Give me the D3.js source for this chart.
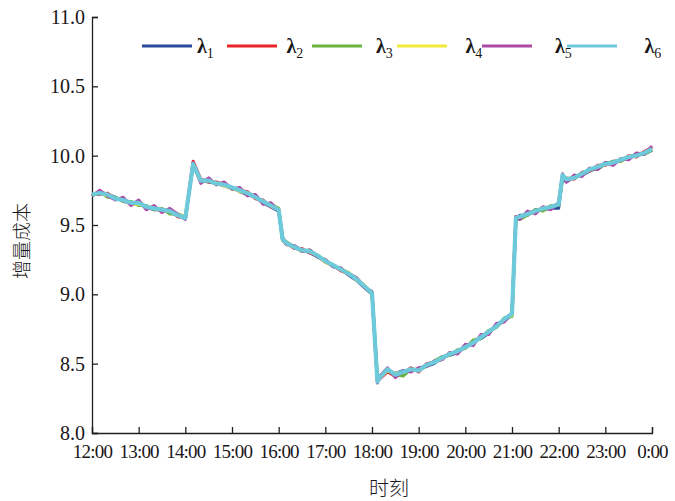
<!DOCTYPE html>
<html>
<head>
<meta charset="utf-8">
<script src="https://cdn.jsdelivr.net/npm/d3@7"></script>
<style>
  body { margin: 0; background: #fff; }
  .tick text { font-family: "Liberation Serif", serif; fill: #1a1718; }
</style>
</head>
<body>
<div id="chart-area"></div>
<script>
const MARGIN = { LEFT: 92, RIGHT: 23, TOP: 17, BOTTOM: 68 }
const WIDTH = 675 - MARGIN.LEFT - MARGIN.RIGHT
const HEIGHT = 501 - MARGIN.TOP - MARGIN.BOTTOM

// sample times (clock time, 24:00 = midnight at the end)
const times = ["12:00","12:10","12:20","12:30","12:40","12:50","13:00","13:10","13:20","13:30","13:40","13:50",
  "14:00","14:10","14:20","14:30","14:40","14:50","15:00","15:10","15:20","15:30","15:40","15:50",
  "16:00","16:05","16:10","16:20","16:30","16:40","16:50","17:00","17:10","17:20","17:30","17:40","17:50",
  "18:00","18:07","18:10","18:20","18:30","18:40","18:50","19:00","19:10","19:20","19:30","19:40","19:50",
  "20:00","20:10","20:20","20:30","20:40","20:50","21:00","21:05","21:10","21:20","21:30","21:40","21:50",
  "22:00","22:05","22:10","22:20","22:30","22:40","22:50","23:00","23:10","23:20","23:30","23:40","23:50","24:00"]

const lambda1 = [9.71,9.74,9.72,9.70,9.67,9.66,9.65,9.63,9.61,9.61,9.59,9.57,
  9.55,9.93,9.82,9.81,9.80,9.78,9.77,9.74,9.72,9.70,9.66,9.63,
  9.60,9.39,9.36,9.35,9.32,9.30,9.27,9.24,9.20,9.18,9.14,9.10,9.05,
  9.00,8.38,8.41,8.45,8.43,8.45,8.45,8.46,8.48,8.50,8.55,8.56,8.58,
  8.62,8.66,8.68,8.72,8.78,8.81,8.85,9.54,9.57,9.57,9.61,9.61,9.62,
  9.62,9.84,9.81,9.85,9.86,9.89,9.91,9.95,9.94,9.97,9.98,10.01,10.01,10.04]
const lambda2 = [9.72,9.72,9.73,9.69,9.69,9.65,9.66,9.62,9.62,9.60,9.61,9.56,
  9.55,9.96,9.83,9.81,9.81,9.79,9.76,9.75,9.74,9.69,9.68,9.63,
  9.62,9.41,9.37,9.33,9.33,9.30,9.28,9.23,9.21,9.17,9.15,9.12,9.06,
  9.01,8.38,8.39,8.44,8.41,8.43,8.47,8.44,8.50,8.51,8.53,8.58,8.58,
  8.63,8.64,8.70,8.72,8.77,8.81,8.86,9.56,9.55,9.59,9.59,9.63,9.62,
  9.66,9.85,9.84,9.83,9.88,9.89,9.93,9.93,9.96,9.96,10.00,9.99,10.03,10.06]
const lambda3 = [9.71,9.74,9.70,9.70,9.67,9.67,9.64,9.64,9.61,9.62,9.58,9.58,
  9.56,9.93,9.81,9.83,9.79,9.80,9.76,9.76,9.72,9.71,9.66,9.65,
  9.62,9.39,9.38,9.34,9.31,9.32,9.27,9.25,9.20,9.19,9.14,9.12,9.05,
  9.02,8.39,8.41,8.45,8.42,8.41,8.46,8.46,8.48,8.52,8.55,8.56,8.60,
  8.61,8.67,8.68,8.74,8.76,8.83,8.84,9.54,9.54,9.57,9.61,9.60,9.64,
  9.64,9.84,9.82,9.85,9.86,9.91,9.90,9.94,9.96,9.96,9.99,10.01,10.01,10.04]
const lambda4 = [9.72,9.73,9.71,9.69,9.68,9.65,9.65,9.63,9.62,9.60,9.60,9.57,
  9.56,9.94,9.82,9.82,9.80,9.78,9.77,9.74,9.73,9.70,9.67,9.64,
  9.61,9.40,9.36,9.34,9.32,9.31,9.28,9.23,9.21,9.18,9.16,9.10,9.07,
  9.00,8.37,8.40,8.45,8.43,8.44,8.45,8.45,8.49,8.51,8.54,8.57,8.59,
  8.62,8.65,8.69,8.73,8.77,8.82,8.85,9.55,9.56,9.58,9.60,9.62,9.63,
  9.65,9.86,9.83,9.84,9.87,9.90,9.92,9.94,9.95,9.97,9.99,10.00,10.02,10.05]
const lambda5 = [9.71,9.75,9.71,9.68,9.70,9.64,9.68,9.61,9.64,9.59,9.62,9.58,
  9.54,9.95,9.80,9.84,9.79,9.81,9.76,9.77,9.71,9.72,9.65,9.66,
  9.60,9.41,9.36,9.35,9.31,9.32,9.27,9.25,9.20,9.19,9.14,9.12,9.05,
  9.02,8.36,8.41,8.47,8.40,8.45,8.44,8.47,8.48,8.52,8.53,8.58,8.57,
  8.64,8.63,8.71,8.71,8.79,8.80,8.87,9.56,9.54,9.60,9.58,9.63,9.61,
  9.66,9.87,9.81,9.86,9.85,9.91,9.90,9.95,9.93,9.98,9.97,10.02,10.01,10.07]
const lambda6 = [9.72,9.73,9.72,9.69,9.68,9.66,9.66,9.63,9.62,9.61,9.60,9.57,
  9.55,9.94,9.82,9.82,9.80,9.79,9.77,9.75,9.73,9.70,9.67,9.64,
  9.61,9.40,9.37,9.34,9.32,9.31,9.28,9.24,9.21,9.18,9.15,9.11,9.06,
  9.01,8.37,8.40,8.46,8.42,8.44,8.46,8.45,8.49,8.51,8.54,8.57,8.59,
  8.62,8.65,8.69,8.73,8.77,8.82,8.86,9.55,9.56,9.58,9.60,9.62,9.63,
  9.65,9.86,9.83,9.84,9.87,9.90,9.92,9.94,9.95,9.97,9.99,10.00,10.02,10.05]

const seriesNames = ["1", "2", "3", "4", "5", "6"]
const seriesValues = [lambda1, lambda2, lambda3, lambda4, lambda5, lambda6]
const colors = ["#2b4a9b", "#ec2327", "#68b43f", "#f2ea3b", "#ad4aa5", "#6ccadb"]
const yTicks = [8.0, 8.5, 9.0, 9.5, 10.0, 10.5, 11.0]

// minutes since 12:00
const toMinutes = s => { const p = s.split(":"); return (+p[0] - 12) * 60 + (+p[1]) }
const mins = times.map(toMinutes)

const svg = d3.select("#chart-area").append("svg")
	.attr("width", WIDTH + MARGIN.LEFT + MARGIN.RIGHT)
	.attr("height", HEIGHT + MARGIN.TOP + MARGIN.BOTTOM)

const g = svg.append("g")
	.attr("transform", `translate(${MARGIN.LEFT}, ${MARGIN.TOP})`)

// scales
const x = d3.scaleLinear().domain([0, 720]).range([0, WIDTH])
const y = d3.scaleLinear().domain([8, 11]).range([HEIGHT, 0])

// axes, ticks point inward
const xAxisCall = d3.axisBottom(x)
	.tickValues(d3.range(0, 721, 60))
	.tickSize(-6)
	.tickPadding(12)
	.tickFormat(d => `${(12 + d / 60) % 24}:00`)
const yAxisCall = d3.axisLeft(y)
	.tickValues(yTicks)
	.tickSize(-6)
	.tickPadding(7)
	.tickFormat(d3.format(".1f"))

const xAxis = g.append("g")
	.attr("transform", `translate(0, ${HEIGHT})`)
	.call(xAxisCall)
xAxis.selectAll("text").attr("font-size", "19px").style("letter-spacing", "-0.8px")
const yAxis = g.append("g").call(yAxisCall)
yAxis.selectAll("text").attr("font-size", "20px")

svg.selectAll(".domain, .tick line").attr("stroke", "#231f20").attr("stroke-width", 1.3)

// lines
const line = d3.line()
	.x((d, i) => x(mins[i]))
	.y(d => y(d))

seriesValues.forEach((vals, i) => {
	g.append("path")
		.attr("fill", "none")
		.attr("stroke", colors[i])
		.attr("stroke-width", i === 5 ? 4.2 : 3)
		.attr("stroke-linejoin", "round")
		.attr("d", line(vals))
})

// legend
const legend = svg.append("g")
seriesNames.forEach((n, i) => {
	const lx = 142 + 85 * i
	legend.append("line")
		.attr("x1", lx).attr("x2", lx + 50)
		.attr("y1", 46).attr("y2", 46)
		.attr("stroke", colors[i]).attr("stroke-width", 3)
	const t = legend.append("text")
		.attr("x", 197 + 89.5 * i)
		.attr("y", 53)
		.attr("font-family", "Liberation Serif, serif")
		.attr("fill", "#1a1718")
	t.append("tspan").attr("font-size", "20px").attr("font-weight", "bold").text("λ")
	t.append("tspan").attr("font-size", "14px").attr("dy", 5).text(n)
})

// axis labels
svg.append("text")
	.attr("transform", `translate(29, 241) rotate(-90)`)
	.attr("text-anchor", "middle")
	.attr("font-family", "Noto Sans CJK SC")
	.attr("font-weight", 300)
	.attr("font-size", "19px")
	.attr("fill", "#1a1718")
	.text("增量成本")
svg.append("text")
	.attr("x", 389)
	.attr("y", 496)
	.attr("text-anchor", "middle")
	.attr("font-family", "Noto Sans CJK SC")
	.attr("font-weight", 300)
	.attr("font-size", "20px")
	.attr("fill", "#1a1718")
	.text("时刻")
</script>
</body>
</html>
